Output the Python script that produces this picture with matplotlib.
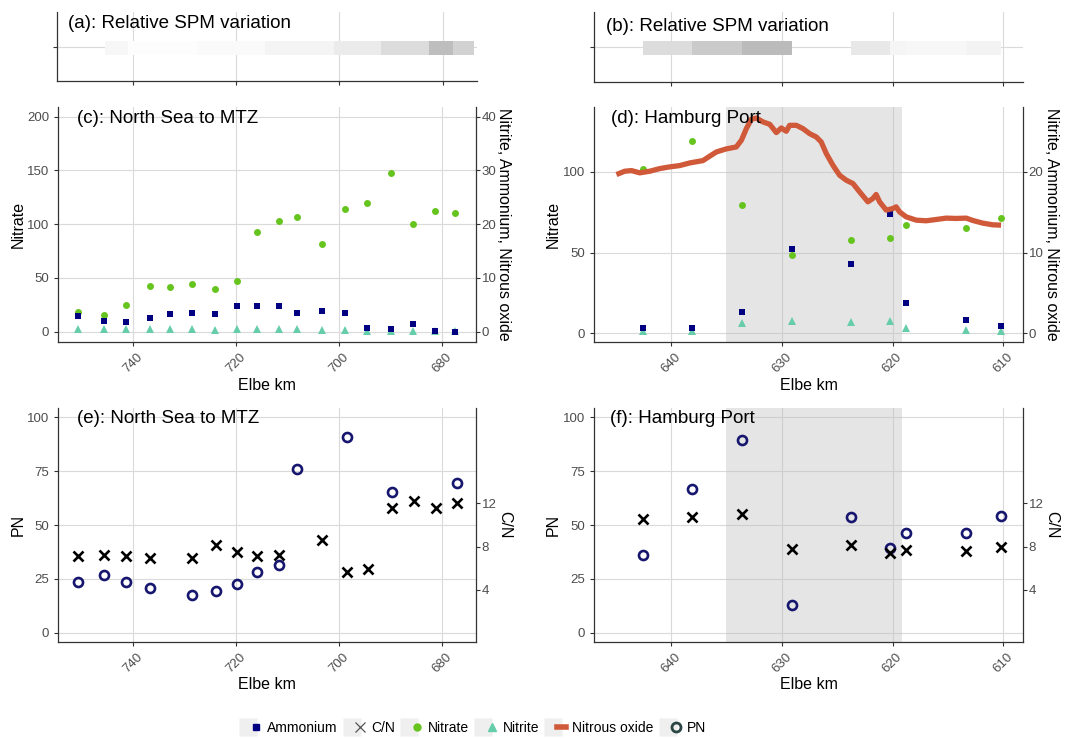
import numpy as np
import matplotlib
matplotlib.use("Agg")
import matplotlib.pyplot as plt
from matplotlib.lines import Line2D
from matplotlib.legend_handler import HandlerTuple
from matplotlib.colors import LinearSegmentedColormap

plt.rcParams['font.family'] = ['Liberation Sans', 'DejaVu Sans']

# ---- data: North Sea to MTZ (panels a, c, e)
km_c = [750.7, 745.7, 741.4, 736.7, 732.8, 728.6, 724.1, 719.9, 716.0,
        711.7, 708.2, 703.4, 698.8, 694.5, 690.0, 685.7, 681.4, 677.4]
nitrate_c = [18.3, 15.8, 24.5, 42.5, 41.5, 44.3, 39.4, 46.8, 92.4,
             103.3, 106.4, 81.6, 114.1, 119.7, 147.3, 100.2, 111.9, 110.7]
ammonium_c = [2.9, 1.9, 1.8, 2.5, 3.2, 3.5, 3.2, 4.8, 4.8,
              4.7, 3.5, 3.9, 3.5, 0.7, 0.5, 1.4, 0.2, 0.0]
nitrite_c = [0.45, 0.45, 0.45, 0.5, 0.45, 0.45, 0.4, 0.5, 0.55,
             0.5, 0.45, 0.3, 0.3, 0.2, 0.1, 0.2, 0.05, 0.05]

km_e_pn = [750.7, 745.7, 741.4, 736.7, 728.6, 723.9, 719.9, 715.9, 711.6,
           708.1, 698.5, 689.7, 677.1]
pn_e = [23.5, 26.9, 23.4, 20.6, 17.3, 19.5, 22.4, 28.0, 31.6,
        76.2, 91.0, 65.5, 69.5]
km_e_cn = [750.7, 745.7, 741.4, 736.7, 728.6, 723.9, 719.9, 715.9, 711.6,
           703.4, 698.5, 694.3, 689.7, 685.5, 681.2, 677.1]
cn_e = [7.15, 7.2, 7.1, 6.9, 6.9, 8.1, 7.46, 7.15, 7.2,
        8.6, 5.6, 5.9, 11.6, 12.2, 11.6, 12.0]

spm_edges_a = [745.4, 740.8, 727.6, 714.3, 701.0, 692.0, 682.6, 678.1, 674.0]
spm_rel_a = [0.10, 0.03, 0.06, 0.14, 0.25, 0.44, 0.82, 0.57]

# ---- data: Hamburg Port (panels b, d, f)
km_d = [642.6, 638.1, 633.6, 629.1, 623.8, 620.2, 618.8, 613.4, 610.2]
nitrate_d = [101.6, 119.4, 79.2, 48.2, 57.9, 58.8, 67.2, 65.2, 71.5]
ammonium_d = [0.62, 0.7, 2.64, 10.4, 8.6, 14.8, 3.8, 1.6, 0.87]
nitrite_d = [0.3, 0.3, 1.24, 1.5, 1.4, 1.5, 0.66, 0.4, 0.3]
pn_f = [35.9, 66.9, 89.6, 12.8, 53.7, 39.3, 46.4, 46.4, 54.2]
cn_f = [10.6, 10.7, 11.0, 7.8, 8.1, 7.4, 7.7, 7.6, 8.0]

km_n2o = [644.97, 644.22, 643.61, 642.86, 641.96, 641.05, 640.15, 639.25, 638.34,
          637.14, 636.54, 635.93, 635.03, 634.13, 633.67, 633.22, 632.77, 632.32,
          631.72, 631.11, 630.51, 630.06, 629.61, 629.31, 628.70, 628.10, 627.50,
          626.90, 626.45, 625.99, 625.39, 624.79, 624.19, 623.58, 622.98, 622.23,
          621.78, 621.48, 621.17, 620.57, 619.97, 619.67, 619.37, 618.77, 617.86,
          616.96, 616.05, 615.15, 614.25, 613.34, 612.74, 611.84, 610.93, 610.18]
n2o = [19.67, 20.08, 20.16, 19.88, 20.08, 20.41, 20.62, 20.78, 21.11,
       21.40, 21.94, 22.47, 22.85, 23.09, 23.92, 25.36, 26.52, 26.68,
       26.19, 25.90, 24.87, 25.44, 25.03, 25.77, 25.77, 25.36, 24.74,
       24.33, 23.71, 22.27, 20.82, 19.59, 18.97, 18.56, 17.53, 16.29,
       16.70, 17.20, 16.29, 15.26, 15.46, 15.67, 15.05, 14.43, 14.02,
       13.94, 14.10, 14.27, 14.23, 14.27, 13.98, 13.65, 13.44, 13.40]

spm_edges_b = km_d
spm_rel_b = [0.44, 0.67, 0.86, np.nan, 0.29, 0.13, 0.10, 0.15]

port_zone = (635.1, 619.1)

# colours
c_amm = '#000080'
c_nitrate = '#66C41E'
c_nitrite = '#66CDAA'
c_n2o = '#D0593A'
c_pn = '#16166E'
c_spine = '#333333'

W, H = 1066, 738
fig = plt.figure(figsize=(W / 100, H / 100), dpi=100)
LAB = 11.5


def px_axes(l, t, r, b):
    return fig.add_axes([l / W, 1 - b / H, (r - l) / W, (b - t) / H])


def style(ax):
    for s in ['top', 'right']:
        ax.spines[s].set_visible(False)
    for s in ['left', 'bottom']:
        ax.spines[s].set_color(c_spine)
        ax.spines[s].set_linewidth(0.9)
    ax.grid(True, color='#DADADA', lw=0.8)
    ax.set_axisbelow(True)
    ax.tick_params(colors=c_spine, labelcolor='#4D4D4D', labelsize=9.5,
                   length=3, width=0.8)


def twin(ax, ylim, ticks, label, lx):
    tw = ax.twinx()
    for s in ['top', 'left', 'bottom']:
        tw.spines[s].set_visible(False)
    tw.spines['right'].set_color(c_spine)
    tw.spines['right'].set_linewidth(0.9)
    tw.set_ylim(ylim)
    tw.set_yticks(ticks)
    tw.tick_params(colors=c_spine, labelcolor='#4D4D4D', labelsize=9.5,
                   length=3, width=0.8, pad=1)
    tw.set_ylabel(label, rotation=270, fontsize=LAB, va='center')
    tw.yaxis.set_label_coords(lx, 0.5)
    return tw


def xaxis(ax, xlim, ticks):
    ax.set_xlim(xlim)
    ax.set_xticks(ticks)
    ax.tick_params(axis='x', labelrotation=45)
    ax.set_xlabel('Elbe km', fontsize=LAB, va='center')
    ax.xaxis.set_label_coords(0.5, -0.183)


def title(ax, x, y, s):
    ax.text(x, y, s, transform=ax.transAxes, fontsize=13.5, va='center',
            ha='left', zorder=10)


xlim_ns = (754.6, 673.4)
xlim_hp = (647.0, 608.2)
cmap = LinearSegmentedColormap.from_list('spm', ['#FFFFFF', '#B0B0B0'])

# ---- (a) / (b) SPM strips
for box, edges, vals, xlim, ticks, ttl, ty in [
        ((57, 12, 477, 81), spm_edges_a, spm_rel_a, xlim_ns, [740, 720, 700, 680],
         '(a): Relative SPM variation', 0.836),
        ((594, 12, 1023, 82), spm_edges_b, spm_rel_b, xlim_hp, [640, 630, 620, 610],
         '(b): Relative SPM variation', 0.80)]:
    ax = px_axes(*box)
    style(ax)
    ax.pcolormesh(edges, [0.86, 1.10], np.ma.masked_invalid([vals]),
                  cmap=cmap, vmin=0, vmax=1, zorder=2)
    ax.set_xlim(xlim)
    ax.set_xticks(ticks)
    ax.set_ylim(0.4, 1.6)
    ax.set_yticks([1])
    ax.tick_params(labelbottom=False, labelleft=False)
    title(ax, 0.027, ty, ttl)

# ---- (c) nutrients, North Sea to MTZ
ax = px_axes(58, 107, 476, 342)
style(ax)
ylim = (-9.6, 209)
ax.plot(km_c, nitrate_c, 'o', color=c_nitrate, ms=5, mew=0)
ax.set_ylim(ylim)
ax.set_yticks([0, 50, 100, 150, 200])
ax.set_ylabel('Nitrate', fontsize=LAB, va='center')
ax.yaxis.set_label_coords(-0.0957, 0.5)
xaxis(ax, xlim_ns, [740, 720, 700, 680])
tw = twin(ax, (ylim[0] / 5, ylim[1] / 5), [0, 10, 20, 30, 40],
          'Nitrite, Ammonium, Nitrous oxide', 1.065)
tw.plot(km_c, nitrite_c, '^', color=c_nitrite, ms=5.5, mew=0)
tw.plot(km_c, ammonium_c, 's', color=c_amm, ms=5, mew=0)
title(tw, 0.0455, 0.949, '(c): North Sea to MTZ')

# ---- (d) nutrients, Hamburg Port
ax = px_axes(594, 107, 1023, 342)
style(ax)
ylim = (-5.4, 140.2)
ax.axvspan(*port_zone, color='#BEBEBE', alpha=0.4, lw=0, zorder=1)
ax.plot(km_d, nitrate_d, 'o', color=c_nitrate, ms=5, mew=0, zorder=3)
ax.set_ylim(ylim)
ax.set_yticks([0, 50, 100])
ax.set_ylabel('Nitrate', fontsize=LAB, va='center')
ax.yaxis.set_label_coords(-0.095, 0.5)
xaxis(ax, xlim_hp, [640, 630, 620, 610])
tw = twin(ax, (ylim[0] / 5, ylim[1] / 5), [0, 10, 20],
          'Nitrite, Ammonium, Nitrous oxide', 1.067)
tw.plot(km_d, nitrite_d, '^', color=c_nitrite, ms=5.5, mew=0)
tw.plot(km_d, ammonium_d, 's', color=c_amm, ms=5, mew=0)
tw.plot(km_n2o, n2o, '-', color=c_n2o, lw=3.8, solid_capstyle='butt')
title(tw, 0.0396, 0.949, '(d): Hamburg Port')

# ---- (e) PN and C/N, North Sea to MTZ
ax = px_axes(58, 408, 476, 642)
style(ax)
ylim = (-4.3, 104.3)
ax.plot(km_e_pn, pn_e, 'o', mfc='none', mec=c_pn, ms=6.5, mew=1.9)
ax.set_ylim(ylim)
ax.set_yticks([0, 25, 50, 75, 100])
ax.set_ylabel('PN', fontsize=LAB, va='center')
ax.yaxis.set_label_coords(-0.0957, 0.5)
xaxis(ax, xlim_ns, [740, 720, 700, 680])
tw = twin(ax, (ylim[0] / 5, ylim[1] / 5), [4, 8, 12], 'C/N', 1.069)
tw.plot(km_e_cn, cn_e, 'x', color='black', ms=7, mew=1.9)
title(tw, 0.0455, 0.953, '(e): North Sea to MTZ')

# ---- (f) PN and C/N, Hamburg Port
ax = px_axes(594, 408, 1023, 642)
style(ax)
ax.axvspan(*port_zone, color='#BEBEBE', alpha=0.4, lw=0, zorder=1)
ax.plot(km_d, pn_f, 'o', mfc='none', mec=c_pn, ms=6.5, mew=1.9, zorder=3)
ax.set_ylim(ylim)
ax.set_yticks([0, 25, 50, 75, 100])
ax.set_ylabel('PN', fontsize=LAB, va='center')
ax.yaxis.set_label_coords(-0.095, 0.5)
xaxis(ax, xlim_hp, [640, 630, 620, 610])
tw = twin(ax, (ylim[0] / 5, ylim[1] / 5), [4, 8, 12], 'C/N', 1.067)
tw.plot(km_d, cn_f, 'x', color='black', ms=7, mew=1.9)
title(tw, 0.037, 0.953, '(f): Hamburg Port')

# ---- legend (grey key background drawn as a big square marker)
def key(**kw):
    bgk = Line2D([], [], ls='none', marker='s', ms=12.5, mfc='#EFEFEF', mec='none')
    return (bgk, Line2D([], [], **kw))


handles = [
    key(ls='none', marker='s', color=c_amm, ms=5),
    key(ls='none', marker='x', color='#555555', ms=7, mew=0.9),
    key(ls='none', marker='o', color=c_nitrate, ms=5),
    key(ls='none', marker='^', color=c_nitrite, ms=6),
    key(color=c_n2o, lw=4),
    key(ls='none', marker='o', mfc='none', mec='#2B4545', ms=6.5, mew=2),
]
labels = ['Ammonium', 'C/N', 'Nitrate', 'Nitrite', 'Nitrous oxide', 'PN']
fig.legend(handles, labels, loc='center', bbox_to_anchor=(475 / W, 1 - 728 / H),
           ncol=6, frameon=False, fontsize=10,
           handler_map={tuple: HandlerTuple(ndivide=None, pad=0)},
           handlelength=1.2, handleheight=1.2, handletextpad=0.5,
           columnspacing=0.7)

fig.savefig('out.png', dpi=100)
